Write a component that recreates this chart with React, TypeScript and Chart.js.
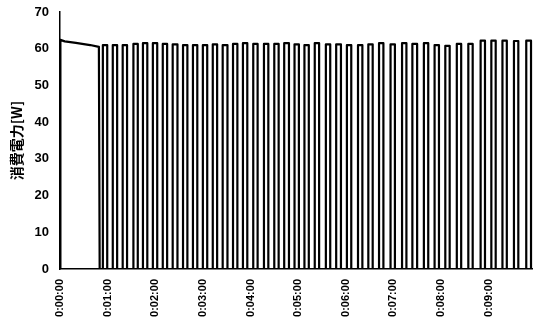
import { useEffect, useRef } from 'react';
import { Chart, registerables } from 'chart.js';

Chart.register(...registerables);

// x tick positions (seconds) and labels
const xTickSeconds = [0, 60, 120, 180, 240, 300, 360, 420, 480, 540];
const xTickLabels = ['0:00:00', '0:01:00', '0:02:00', '0:03:00', '0:04:00', '0:05:00', '0:06:00', '0:07:00', '0:08:00', '0:09:00'];
const yTicks = [0, 10, 20, 30, 40, 50, 60, 70];

// initial long run (seconds, watts)
const plateauTimes = [0, 0.5, 6, 20, 38, 49, 50];
const plateauValues = [0, 62.4, 62.0, 61.6, 61.0, 60.5, 0];

// on/off cycling: switch-on time, switch-off time (seconds) and power while on (W)
const pulseOn = [54, 66.5, 79, 92.5, 104.5, 117, 129.5, 142, 155, 167.5, 180, 192.5, 205, 218, 230.5, 243.5, 257, 270, 282.5, 295.5, 308, 321, 335, 348, 361.5, 375.5, 388.5, 402, 416.5, 431, 444, 458.5, 472, 485.5, 500, 514.5, 530, 543.5, 557.5, 572, 587.5];
const pulseOff = [59.5, 72, 84.5, 98, 110, 122.5, 135, 148, 160.5, 173, 185.5, 198, 211, 223.5, 236, 249, 262.5, 275.5, 288.5, 301, 313.5, 326.5, 340.5, 354, 367, 381, 394, 407.5, 422, 436.5, 450, 464, 477.5, 491, 505.5, 520, 535.5, 549, 563, 577.5, 593.5];
const pulsePeak = [61.0, 61.0, 61.0, 61.3, 61.5, 61.5, 61.3, 61.2, 61.0, 61.0, 61.0, 61.2, 61.0, 61.3, 61.5, 61.3, 61.3, 61.3, 61.5, 61.2, 61.0, 61.5, 61.2, 61.2, 61.0, 61.0, 61.2, 61.5, 61.2, 61.5, 61.3, 61.5, 61.0, 60.8, 61.3, 61.3, 62.2, 62.2, 62.2, 62.1, 62.2];

const X_MAX = 596;

export default function App() {
  const ref = useRef<HTMLCanvasElement | null>(null);

  useEffect(() => {
    if (!ref.current) return;
    const points: { x: number; y: number }[] = [];
    plateauTimes.forEach((t, i) => points.push({ x: t, y: plateauValues[i] }));
    pulseOn.forEach((on, i) => {
      points.push({ x: on, y: 0 });
      points.push({ x: on, y: pulsePeak[i] });
      points.push({ x: pulseOff[i], y: pulsePeak[i] });
      points.push({ x: pulseOff[i], y: 0 });
    });

    const tickFont = { family: '"Liberation Sans", Arial, sans-serif', size: 12, weight: 'bold' as const };

    const chart = new Chart(ref.current, {
      type: 'line',
      data: {
        datasets: [
          {
            data: points,
            borderColor: '#000',
            borderWidth: 2.2,
            pointRadius: 0,
            fill: false,
            tension: 0,
            borderJoinStyle: 'round',
          },
        ],
      },
      options: {
        animation: false,
        responsive: false,
        events: [],
        layout: { padding: { left: 8, top: 12, right: 0, bottom: 0 } },
        plugins: { legend: { display: false }, tooltip: { enabled: false } },
        scales: {
          x: {
            type: 'linear',
            min: 0,
            max: X_MAX,
            grid: { display: false, drawTicks: false },
            border: { display: true, color: '#000', width: 1.5 },
            afterBuildTicks: (scale: any) => {
              scale.ticks = xTickSeconds.map((v) => ({ value: v }));
            },
            afterFit: (scale: any) => {
              scale.height = 57;
              scale.paddingLeft = 0;
              scale.paddingRight = 0;
            },
            ticks: {
              autoSkip: false,
              minRotation: 90,
              maxRotation: 90,
              padding: 10,
              color: '#000',
              font: { ...tickFont, size: 11 },
              callback: (v: any) => {
                const i = xTickSeconds.indexOf(Number(v));
                return i >= 0 ? xTickLabels[i] : '';
              },
            },
          },
          y: {
            type: 'linear',
            min: 0,
            max: 70,
            grid: { display: false, drawTicks: false },
            border: { display: true, color: '#000', width: 1.5 },
            afterBuildTicks: (scale: any) => {
              scale.ticks = yTicks.map((v) => ({ value: v }));
            },
            afterFit: (scale: any) => {
              scale.width = 52;
              scale.paddingTop = 0;
              scale.paddingBottom = 0;
            },
            title: {
              display: true,
              text: '消費電力[W]',
              color: '#000',
              font: { family: '"Noto Sans CJK JP", sans-serif', size: 14, weight: 'bold' },
              padding: 0,
            },
            ticks: {
              padding: 11,
              color: '#000',
              font: { ...tickFont, size: 13 },
            },
          },
        },
      },
    });
    return () => chart.destroy();
  }, []);

  return (
    <div style={{ position: 'fixed', left: 0, top: 0, width: 533, height: 326, background: '#fff' }}>
      <canvas ref={ref} width={533} height={326} />
    </div>
  );
}
